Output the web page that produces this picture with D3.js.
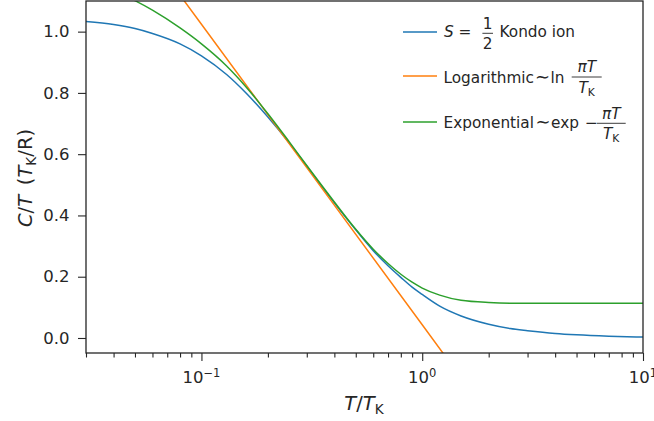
<!DOCTYPE html>
<html>
<head>
<meta charset="utf-8">
<script src="https://cdn.jsdelivr.net/npm/d3@7"></script>
<style>
body { margin: 0; background: #fff; }
text { font-family: "DejaVu Sans", sans-serif; fill: #262626; }
</style>
</head>
<body>
<script>
// Width and height
var w = 654;
var h = 421;
var plot = { left: 86, right: 643, top: 1, bottom: 353 };

// T/T_K values and C/T
var tKondo = [0.03, 0.04, 0.05, 0.06, 0.08, 0.1, 0.13, 0.16, 0.2, 0.25, 0.3, 0.4, 0.5, 0.6, 0.7, 0.8, 0.9, 1.0, 1.2, 1.5, 2, 2.5, 3, 4, 5, 7, 10];
var cKondo = [1.033, 1.023, 1.010, 0.994, 0.960, 0.921, 0.860, 0.798, 0.721, 0.636, 0.561, 0.441, 0.353, 0.285, 0.236, 0.198, 0.166, 0.142, 0.104, 0.072, 0.045, 0.031, 0.024, 0.015, 0.0105, 0.006, 0.003];

var tLog = [0.05, 0.1, 0.3, 1, 1.5];
var cLog = [1.319, 1.024, 0.556, 0.043, -0.130];

var tExp = [0.03, 0.04, 0.05, 0.06, 0.08, 0.1, 0.13, 0.16, 0.2, 0.25, 0.3, 0.4, 0.5, 0.6, 0.7, 0.8, 0.9, 1.0, 1.2, 1.5, 2, 3, 5, 10];
var cExp = [1.165, 1.133, 1.101, 1.070, 1.012, 0.960, 0.888, 0.818, 0.732, 0.640, 0.563, 0.444, 0.355, 0.290, 0.243, 0.208, 0.182, 0.163, 0.140, 0.123, 0.116, 0.113, 0.113, 0.113];

// ticks
var xMajor = [0.1, 1, 10];
var xMajorExp = ["\u22121", "0", "1"];
var xMinor = [0.03, 0.04, 0.05, 0.06, 0.07, 0.08, 0.09, 0.2, 0.3, 0.4, 0.5, 0.6, 0.7, 0.8, 0.9, 2, 3, 4, 5, 6, 7, 8, 9];
var yTicks = [0, 0.2, 0.4, 0.6, 0.8, 1.0];

var colors = ["#1f77b4", "#ff7f0e", "#2ca02c"];
var ink = "#262626";

var x = d3.scaleLog().domain([0.03, 10]).range([plot.left, plot.right]);
var y = d3.scaleLinear().domain([-0.049, 1.1]).range([plot.bottom, plot.top]);

//Create SVG element
var svg = d3.select("body")
            .append("svg")
            .attr("width", w)
            .attr("height", h);

svg.append("clipPath")
   .attr("id", "clip")
   .append("rect")
   .attr("x", plot.left)
   .attr("y", plot.top)
   .attr("width", plot.right - plot.left)
   .attr("height", plot.bottom - plot.top);

// curves
var line = d3.line()
    .x(function(d) { return x(d[0]); })
    .y(function(d) { return y(d[1]); })
    .curve(d3.curveMonotoneX);

var series = [
    d3.zip(tKondo, cKondo),
    d3.zip(tLog, cLog),
    d3.zip(tExp, cExp)
];

svg.append("g")
   .attr("clip-path", "url(#clip)")
   .selectAll("path")
   .data(series)
   .enter()
   .append("path")
   .attr("d", function(d, i) {
        return i == 1 ? line.curve(d3.curveLinear)(d) : line.curve(d3.curveMonotoneX)(d);
        })
   .attr("fill", "none")
   .attr("stroke", function(d, i) { return colors[i]; })
   .attr("stroke-width", 1.5);

// axes
svg.append("g")
    .attr("transform", "translate(0," + plot.bottom + ")")
    .call(d3.axisBottom(x).tickValues(xMajor).tickSize(8).tickFormat(""));
svg.append("g")
    .attr("transform", "translate(0," + plot.bottom + ")")
    .call(d3.axisBottom(x).tickValues(xMinor).tickSize(4.5).tickFormat(""));
var gy = svg.append("g")
    .attr("transform", "translate(" + plot.left + ",0)")
    .call(d3.axisLeft(y).tickValues(yTicks).tickSize(8).tickPadding(8.5).tickFormat(d3.format(".1f")));

svg.selectAll(".domain").remove();
svg.selectAll(".tick line").attr("stroke", ink).attr("stroke-width", 1.1);
gy.selectAll(".tick text")
  .attr("font-size", "16.5px")
  .attr("font-family", "DejaVu Sans")
  .attr("fill", ink);

// x tick labels as 10^n
var xl = svg.selectAll(".xlab")
    .data(xMajor)
    .enter()
    .append("text")
    .attr("x", function(d) { return x(d); })
    .attr("y", 383.3)
    .attr("text-anchor", "middle")
    .attr("font-size", "16.5px");
xl.append("tspan").text("10");
xl.append("tspan")
  .attr("dy", -6.5)
  .attr("font-size", "11.5px")
  .text(function(d, i) { return xMajorExp[i]; });

// frame
svg.append("rect")
   .attr("x", plot.left)
   .attr("y", plot.top)
   .attr("width", plot.right - plot.left)
   .attr("height", plot.bottom - plot.top)
   .attr("fill", "none")
   .attr("stroke", ink)
   .attr("stroke-width", 1.3);

// helper for text with italic / subscript parts
function rich(g, px, py, parts, size, anchor) {
    var t = g.append("text")
        .attr("x", px)
        .attr("y", py)
        .attr("font-size", size + "px")
        .attr("text-anchor", anchor || "start");
    var shift = 0;
    parts.forEach(function(p) {
        var s = t.append("tspan").text(p[0]);
        if (p[1] == "i") s.attr("font-style", "italic");
        if (p[1] == "sub") {
            s.attr("font-size", (size * 0.7) + "px").attr("dy", size * 0.22);
            shift = size * 0.22;
        } else if (shift) {
            s.attr("dy", -shift);
            shift = 0;
        }
    });
    return t;
}

// axis labels
rich(svg, 364, 410, [["T", "i"], ["/"], ["T", "i"], ["K", "sub"]], 19.5, "middle");
var yl = svg.append("g").attr("transform", "translate(31.5,178) rotate(-90)");
rich(yl, 0, 0, [["C", "i"], ["/"], ["T", "i"], ["\u2002("], ["T", "i"], ["K", "sub"], ["/R)"]], 19.5, "middle");

// legend
var fs = 15.3;
var lg = svg.append("g");
var rows = [32, 76, 122];
lg.selectAll("line")
  .data(rows)
  .enter()
  .append("line")
  .attr("x1", 403)
  .attr("x2", 437)
  .attr("y1", function(d) { return d; })
  .attr("y2", function(d) { return d; })
  .attr("stroke", function(d, i) { return colors[i]; })
  .attr("stroke-width", 1.5);

function frac(cx, bar, halfw, num, den) {
    lg.append("line")
      .attr("x1", cx - halfw).attr("x2", cx + halfw)
      .attr("y1", bar).attr("y2", bar)
      .attr("stroke", ink).attr("stroke-width", 0.9);
    rich(lg, cx, bar - 4.8, num, fs, "middle");
    rich(lg, cx, bar + 15.8, den, fs, "middle");
}

// S = 1/2 Kondo ion
rich(lg, 444, 37.3, [["S", "i"]], fs);
rich(lg, 458.5, 37.3, [["="]], fs);
frac(487.7, 33.3, 5.3, [["1"]], [["2"]]);
rich(lg, 499.5, 37.3, [["Kondo ion"]], fs);

// Logarithmic ~ ln piT/T_K
rich(lg, 443.5, 83, [["Logarithmic"]], fs);
rich(lg, 535, 83, [["\u223C"]], 18);
rich(lg, 550.5, 83, [["ln"]], fs);
frac(586.7, 77, 15, [["\u03C0", "i"], ["T", "i"]], [["T", "i"], ["K", "sub"]]);

// Exponential ~ exp - piT/T_K
rich(lg, 443.5, 128, [["Exponential"]], fs);
rich(lg, 535.5, 128, [["\u223C"]], 18);
rich(lg, 551, 128, [["exp"]], fs);
rich(lg, 585, 128, [["\u2212"]], fs);
frac(611.2, 123.3, 14.5, [["\u03C0", "i"], ["T", "i"]], [["T", "i"], ["K", "sub"]]);
</script>
</body>
</html>
